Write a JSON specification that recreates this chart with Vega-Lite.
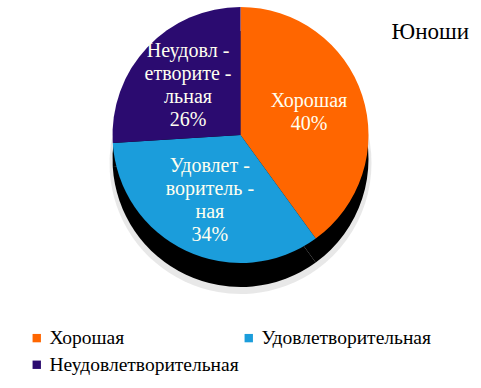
{
  "$schema": "https://vega.github.io/schema/vega-lite/v6.json",
  "width": 481,
  "height": 270,
  "autosize": "none",
  "padding": {"top": 0, "left": 0, "right": 0, "bottom": 118},
  "background": "white",
  "config": {"font": "Liberation Serif"},
  "title": {"text": "Юноши", "anchor": "end", "frame": "group", "offset": -44, "font": "Liberation Serif", "fontSize": 23, "fontWeight": "normal", "color": "#000000", "dx": -12},
  "data": {"values": [
    {"category": "Хорошая", "value": 40, "order": 1, "label": ["Хорошая", "40%"]},
    {"category": "Удовлетворительная", "value": 34, "order": 2, "label": ["Удовлет -", "воритель -", "ная", "34%"]},
    {"category": "Неудовлетворительная", "value": 26, "order": 3, "label": ["Неудовл -", "етворите -", "льная", "26%"]}
  ]},
  "encoding": {
    "theta": {"field": "value", "type": "quantitative", "stack": true},
    "order": {"field": "order", "type": "ordinal"}
  },
  "layer": [
    {"mark": {"type": "arc", "outerRadius": 131, "fill": "#d8d8d8", "yOffset": 28, "opacity": 0.6}},
    {"mark": {"type": "arc", "outerRadius": 128, "fill": "#000000", "yOffset": 24}},
    {"mark": {"type": "arc", "outerRadius": 128},
     "encoding": {"color": {"field": "category", "type": "nominal",
       "scale": {"domain": ["Хорошая", "Удовлетворительная", "Неудовлетворительная"], "range": ["#FF6600", "#1B9DDB", "#2B0B70"]},
       "legend": {"orient": "none", "legendX": 27, "legendY": 328, "columns": 2, "direction": "horizontal", "gridAlign": "all", "columnPadding": -6, "rowPadding": 6, "title": null, "symbolType": "square", "symbolSize": 70, "symbolStrokeWidth": 0, "labelFont": "Liberation Serif", "labelFontSize": 19.5, "labelColor": "#000000", "labelOffset": 3, "labelLimit": 300}}}},
    {"mark": {"type": "text", "radius": 72, "dy": {"expr": "-(length(datum.label) - 1) * 11.5"}, "font": "Liberation Serif", "fontSize": 20, "lineHeight": 23, "color": "#FFFFF0", "align": "center", "baseline": "middle"},
     "encoding": {"text": {"field": "label"}}}
  ],
  "view": {"stroke": null}
}
